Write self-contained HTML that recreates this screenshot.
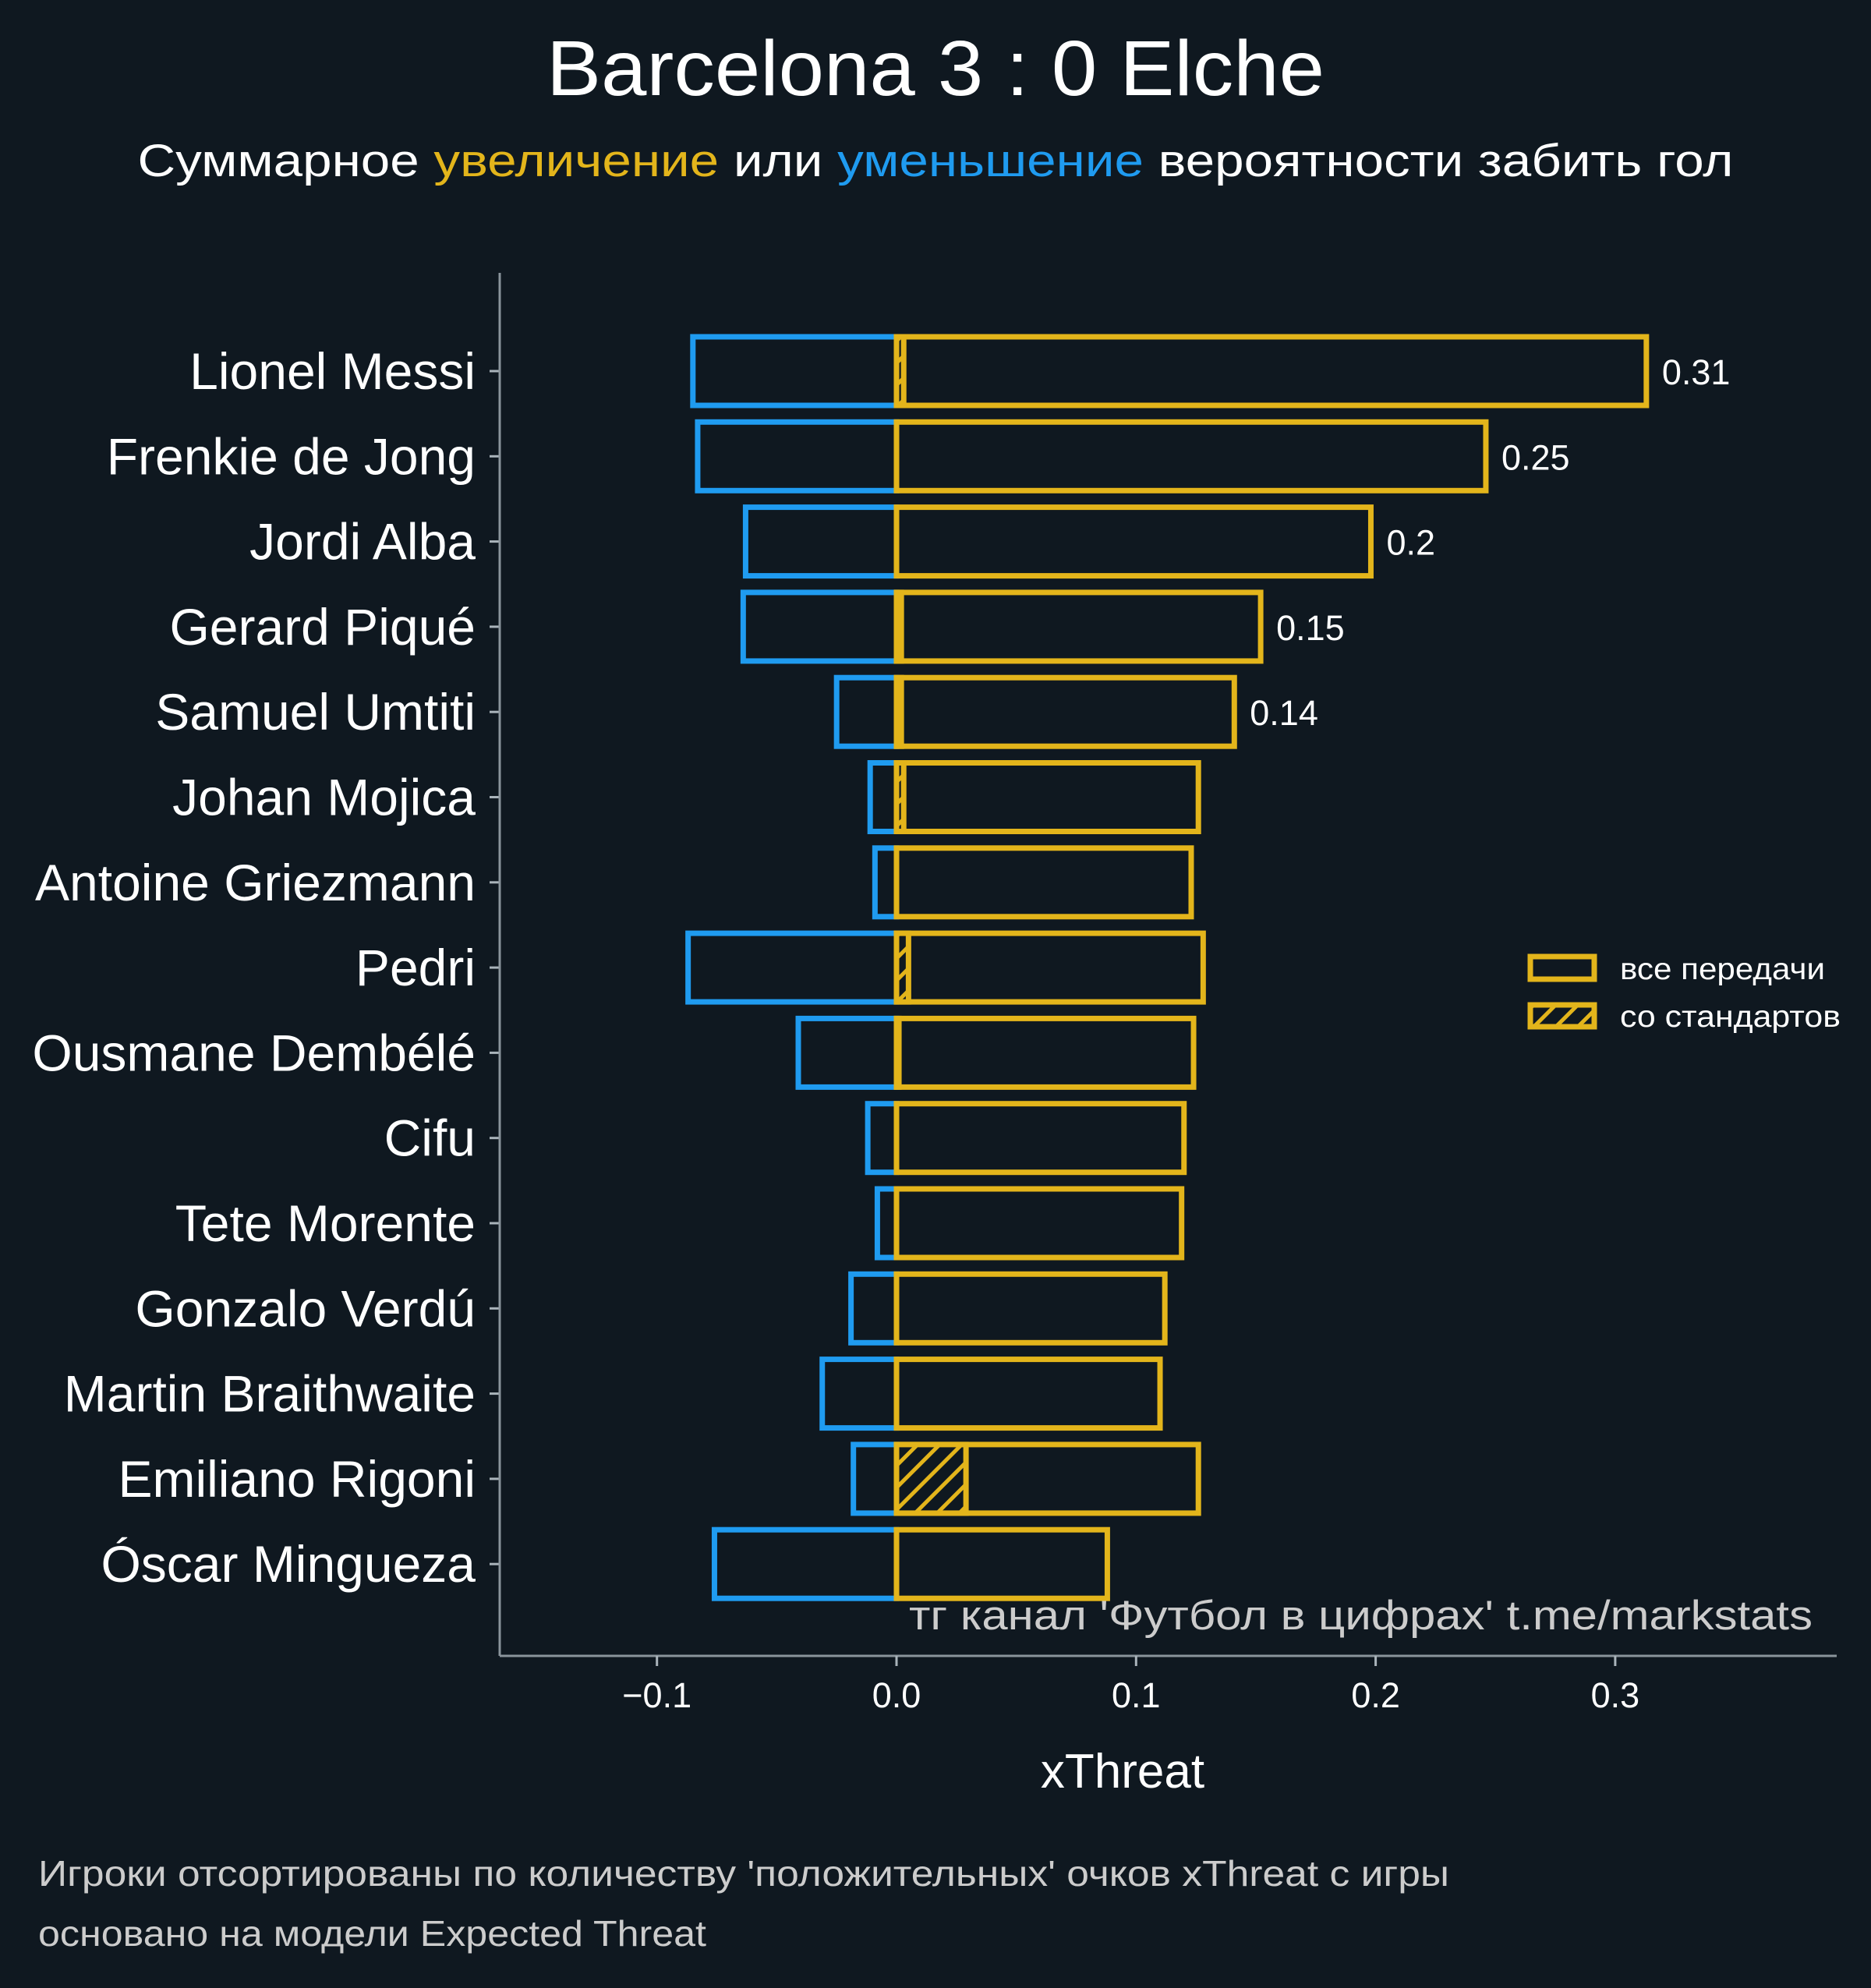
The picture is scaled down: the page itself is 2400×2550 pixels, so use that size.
<!DOCTYPE html>
<html><head><meta charset="utf-8"><style>
html,body{margin:0;padding:0;background:#0f1820;}
svg{display:block;font-family:"Liberation Sans","DejaVu Sans",sans-serif;}
</style></head><body>
<svg id="chart" width="2400" height="2550" viewBox="0 0 2400 2550">
<defs>
<pattern id="hatch" patternUnits="userSpaceOnUse" width="20" height="20" patternTransform="rotate(45)">
<rect width="20" height="20" fill="#0f1820"/><rect x="0" y="0" width="5" height="20" fill="#e3b51b"/>
</pattern>
</defs>
<rect width="2400" height="2550" fill="#0f1820"/>
<text x="1200" y="122" text-anchor="middle" font-size="100" fill="#ffffff" textLength="998" lengthAdjust="spacingAndGlyphs">Barcelona 3 : 0 Elche</text>
<text x="1200" y="226" text-anchor="middle" font-size="58" fill="#ffffff" textLength="2047" lengthAdjust="spacingAndGlyphs">Суммарное <tspan fill="#e3b51b">увеличение</tspan> или <tspan fill="#1f9bf0">уменьшение</tspan> вероятности забить гол</text>
<g id="bars"></g>
<g id="axes"></g>
<text x="1440" y="2293" text-anchor="middle" font-size="62" fill="#ffffff">xThreat</text>
<text x="1166" y="2090" font-size="53" fill="#cccccc" textLength="1159" lengthAdjust="spacingAndGlyphs">тг канал 'Футбол в цифрах'  t.me/markstats</text>
<rect x="1963" y="1227" width="82" height="29" fill="none" stroke="#e3b51b" stroke-width="7"/>
<text x="2078" y="1256" font-size="39" fill="#ffffff" textLength="263" lengthAdjust="spacingAndGlyphs">все передачи</text>
<rect x="1963" y="1289" width="82" height="28" fill="url(#hatch)" stroke="#e3b51b" stroke-width="7"/>
<text x="2078" y="1317" font-size="39" fill="#ffffff" textLength="283" lengthAdjust="spacingAndGlyphs">со стандартов</text>
<text x="49" y="2419" font-size="46" fill="#cccccc" textLength="1810" lengthAdjust="spacingAndGlyphs">Игроки отсортированы по количеству 'положительных' очков xThreat с игры</text>
<text x="49" y="2496" font-size="46" fill="#cccccc" textLength="857" lengthAdjust="spacingAndGlyphs">основано на модели Expected Threat</text>
</svg>
<script>
const players = ["Lionel Messi","Frenkie de Jong","Jordi Alba","Gerard Piqué","Samuel Umtiti","Johan Mojica","Antoine Griezmann","Pedri","Ousmane Dembélé","Cifu","Tete Morente","Gonzalo Verdú","Martin Braithwaite","Emiliano Rigoni","Óscar Mingueza"];
const positive = [0.313,0.246,0.198,0.152,0.141,0.126,0.123,0.128,0.124,0.120,0.119,0.112,0.110,0.126,0.088];
const negative = [-0.085,-0.083,-0.063,-0.064,-0.025,-0.011,-0.009,-0.087,-0.041,-0.012,-0.008,-0.019,-0.031,-0.018,-0.076];
const setPieces = [0.003,0,0,0.002,0.002,0.003,0,0.005,0.001,0,0,0,0,0.029,0];
const valueLabels = ["0.31","0.25","0.2","0.15","0.14"];
const xTicks = [-0.1,0.0,0.1,0.2,0.3];
const xTickLabels = ["−0.1","0.0","0.1","0.2","0.3"];

const NS="http://www.w3.org/2000/svg";
const GOLD="#e3b51b", BLUE="#1f9bf0";
const x = v => 1150 + v*3073;
const y = i => 476 + i*109.3;
const BH = 88;
function mk(tag, attrs, parent){const e=document.createElementNS(NS,tag);for(const k in attrs)e.setAttribute(k,attrs[k]);parent.appendChild(e);return e;}
const bars=document.getElementById('bars'), axes=document.getElementById('axes');

players.forEach((p,i)=>{
  const cy=y(i);
  let r=mk('rect',{x:x(negative[i]),y:cy-BH/2,width:x(0)-x(negative[i]),height:BH,fill:"none",stroke:BLUE,"stroke-width":7},bars);
  
  
  r=mk('rect',{x:x(0),y:cy-BH/2,width:x(positive[i])-x(0),height:BH,fill:"none",stroke:GOLD,"stroke-width":7},bars);
  
  
  if(setPieces[i]>0){
    r=mk('rect',{x:x(0),y:cy-BH/2,width:x(setPieces[i])-x(0),height:BH,fill:"url(#hatch)",stroke:GOLD,"stroke-width":7},bars);
    
    
  }
  if(i<valueLabels.length){
    const t=mk('text',{x:x(positive[i])+20,y:cy+17,"font-size":45,fill:"#ffffff"},bars);
    t.textContent=valueLabels[i];
    
    
  }
  const l=mk('text',{x:610,y:cy+23,"font-size":66,fill:"#ffffff","text-anchor":"end"},axes);
  l.textContent=p;
  
  
  const tk=mk('line',{x1:628,x2:641,y1:cy,y2:cy,stroke:"#aab4bb","stroke-width":3},axes);
  
  
});
let ax=mk('line',{x1:641,x2:641,y1:350,y2:2124,stroke:"#8a949b","stroke-width":3},axes);


ax=mk('line',{x1:641,x2:2356,y1:2124,y2:2124,stroke:"#8a949b","stroke-width":3},axes);


xTicks.forEach((v,i)=>{
  const tk=mk('line',{x1:x(v),x2:x(v),y1:2124,y2:2137,stroke:"#aab4bb","stroke-width":3},axes);
  
  
  const t=mk('text',{x:x(v),y:2190,"font-size":45,fill:"#ffffff","text-anchor":"middle"},axes);
  t.textContent=xTickLabels[i];
  
  
});
</script>
</body></html>
